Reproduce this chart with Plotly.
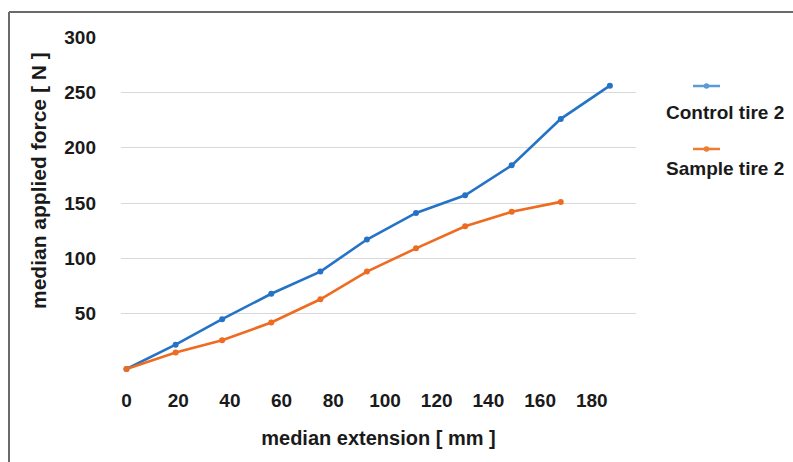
import plotly.graph_objects as go

# ---- data ----
extension_mm = [0, 19, 37, 56, 75, 93, 112, 131, 149, 168, 187]
control_force = [0, 22, 45, 68, 88, 117, 141, 157, 184, 226, 256]
sample_extension_mm = [0, 19, 37, 56, 75, 93, 112, 131, 149, 168]
sample_force = [0, 15, 26, 42, 63, 88, 109, 129, 142, 151]
series_names = ["Control tire 2", "Sample tire 2"]
x_ticks = [0, 20, 40, 60, 80, 100, 120, 140, 160, 180]
y_ticks = [0, 50, 100, 150, 200, 250, 300]
y_ticktext = ["", "50", "100", "150", "200", "250", "300"]

W, H = 793, 462
L, R, T, B = 121, 636, 37, 369  # plot area in pixels

BLUE = "#2573C6"
ORANGE = "#EE6B22"
BLUE_LEG = "#5B9BD5"
ORANGE_LEG = "#ED7D31"
TXT = "#1a1a1a"
FONT = "Liberation Sans, Arial, sans-serif"


def px(x):
    return (x - L) / (R - L)


def py(y):
    return (B - y) / (B - T)


fig = go.Figure()
fig.add_trace(go.Scatter(x=extension_mm, y=control_force, mode="lines+markers",
                         name=series_names[0], cliponaxis=False,
                         line=dict(color=BLUE, width=2.6),
                         marker=dict(color=BLUE, size=6)))
fig.add_trace(go.Scatter(x=sample_extension_mm, y=sample_force, mode="lines+markers",
                         name=series_names[1], cliponaxis=False,
                         line=dict(color=ORANGE, width=2.6),
                         marker=dict(color=ORANGE, size=6)))

shapes = []
# outer frame (top and left edges)
shapes.append(dict(type="line", xref="paper", yref="paper", x0=px(9), x1=px(W + 5),
                   y0=py(12), y1=py(12), line=dict(color="#6a6a6a", width=2)))
shapes.append(dict(type="line", xref="paper", yref="paper", x0=px(9), x1=px(9),
                   y0=py(12), y1=py(H + 5), line=dict(color="#6a6a6a", width=2)))

annotations = []
# custom legend: symbol above label
leg_items = [(series_names[0], BLUE_LEG, 86, 112), (series_names[1], ORANGE_LEG, 149, 169)]
for name, col, sy, ty in leg_items:
    shapes.append(dict(type="line", xref="paper", yref="paper", x0=px(693), x1=px(720),
                       y0=py(sy), y1=py(sy), line=dict(color=col, width=2.5)))
    shapes.append(dict(type="circle", xref="paper", yref="paper",
                       xsizemode="pixel", ysizemode="pixel",
                       xanchor=px(706.5), yanchor=py(sy),
                       x0=-2.8, x1=2.8, y0=-2.8, y1=2.8,
                       fillcolor=col, line=dict(color=col, width=0)))
    annotations.append(dict(text=name, xref="paper", yref="paper", x=px(725), y=py(ty),
                            xanchor="center", yanchor="middle", showarrow=False,
                            font=dict(family=FONT, size=19, color=TXT, weight="bold")))

# y-axis title
annotations.append(dict(text="median applied force [ N ]", xref="paper", yref="paper",
                        x=px(39), y=py(181), textangle=-90, xanchor="center", yanchor="middle",
                        showarrow=False,
                        font=dict(family=FONT, size=21, color=TXT, weight="bold")))

x0_px, slope = 126.5, 2.585
xrange = [(L - x0_px) / slope, (R - x0_px) / slope]

fig.update_layout(
    width=W, height=H,
    margin=dict(l=L, r=W - R, t=T, b=H - B),
    paper_bgcolor="white", plot_bgcolor="white",
    showlegend=False,
    shapes=shapes,
    annotations=annotations,
    xaxis=dict(range=xrange, tickvals=x_ticks, showgrid=False, zeroline=False,
               showline=False, ticks="", ticklabelstandoff=18,
               tickfont=dict(family=FONT, size=19, color=TXT, weight="bold"),
               title=dict(text="median extension [ mm ]", standoff=20,
                          font=dict(family=FONT, size=20, color=TXT, weight="bold"))),
    yaxis=dict(range=[0, 300], tickvals=y_ticks, ticktext=y_ticktext,
               showgrid=True, gridcolor="#d9d9d9", gridwidth=1, zeroline=False,
               showline=False, ticks="", ticklabelstandoff=24,
               tickfont=dict(family=FONT, size=19, color=TXT, weight="bold")),
)

fig.write_html("out.html")
